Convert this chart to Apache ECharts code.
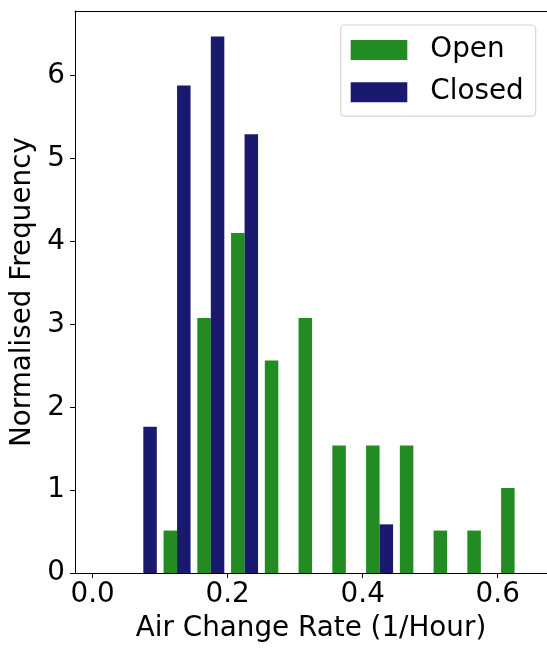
<!DOCTYPE html>
<html>
<head>
<meta charset="utf-8">
<script src="https://cdn.jsdelivr.net/npm/echarts@6/dist/echarts.min.js"></script>
<style>
html,body{margin:0;padding:0;background:#fff;}
#chart{width:547px;height:648px;}
</style>
</head>
<body>
<div id="chart"></div>
<script>
// Histogram bin centres (1/Hour)
const binCenters = [0.075, 0.125, 0.175, 0.225, 0.275, 0.325, 0.375, 0.425, 0.475, 0.525, 0.575, 0.625];
// Normalised frequency per bin
const openValues   = [0, 0.513, 3.077, 4.103, 2.564, 3.077, 1.538, 1.538, 1.538, 0.513, 0.513, 1.026];
const closedValues = [1.765, 5.882, 6.471, 5.294, 0, 0, 0, 0.588, 0, 0, 0, 0];
const xTicks = [0.0, 0.2, 0.4, 0.6];
const yTicks = [0, 1, 2, 3, 4, 5, 6];
const seriesNames = ['Open', 'Closed'];

const binWidth = 0.05;
const barW = binWidth * 0.4;
const FONT = 'DejaVu Sans';
const FS = 27.8;

function makeRender(side) {
  return function (params, api) {
    const c = api.value(0), v = api.value(1);
    if (!v) return null;
    const x0 = side === 0 ? c - barW : c;
    const p0 = api.coord([x0, v]);
    const p1 = api.coord([x0 + barW, 0]);
    return {
      type: 'rect',
      shape: { x: p0[0], y: p0[1], width: p1[0] - p0[0], height: p1[1] - p0[1] },
      style: { fill: api.visual('color') }
    };
  };
}

const chart = echarts.init(document.getElementById('chart'), null, { renderer: 'canvas' });
const axisLineStyle = { color: '#000', width: 1 };
chart.setOption({
  animation: false,
  backgroundColor: '#fff',
  textStyle: { fontFamily: FONT },
  grid: { left: 75, right: 0, top: 11, bottom: 72.3, containLabel: false },
  legend: {
    data: seriesNames.map(n => ({ name: n, icon: 'rect' })),
    orient: 'vertical',
    left: 340.7, top: 25,
    padding: [11, 12, 10, 10],
    itemWidth: 56.6, itemHeight: 20, itemGap: 14.2,
    backgroundColor: '#fff',
    borderColor: '#d6d6d6', borderWidth: 1.2, borderRadius: 4,
    textStyle: { fontFamily: FONT, fontSize: FS, color: '#000', lineHeight: 20, padding: [0, 0, 0, 18] }
  },
  xAxis: [{
    type: 'value', min: -0.0262, max: 0.673,
    name: 'Air Change Rate (1/Hour)', nameLocation: 'middle', nameGap: 42,
    nameTextStyle: { fontFamily: FONT, fontSize: FS, color: '#000', lineHeight: FS },
    splitLine: { show: false },
    axisLine: { show: true, onZero: false, lineStyle: axisLineStyle },
    axisTick: { show: true, length: 5, lineStyle: axisLineStyle, customValues: xTicks },
    axisLabel: { fontFamily: FONT, fontSize: FS, color: '#000', margin: 8, lineHeight: FS,
      customValues: xTicks, formatter: v => v.toFixed(1) }
  }, {
    type: 'value', position: 'top', min: -0.0262, max: 0.673,
    splitLine: { show: false },
    axisLine: { show: true, onZero: false, lineStyle: axisLineStyle },
    axisTick: { show: false }, axisLabel: { show: false }
  }],
  yAxis: {
    type: 'value', min: 0, max: 6.78,
    name: 'Normalised Frequency', nameLocation: 'middle', nameGap: 38, nameRotate: 90,
    nameTextStyle: { fontFamily: FONT, fontSize: FS, color: '#000', lineHeight: FS },
    splitLine: { show: false },
    axisLine: { show: true, onZero: false, lineStyle: axisLineStyle },
    axisTick: { show: true, length: 5, lineStyle: axisLineStyle, customValues: yTicks },
    axisLabel: { fontFamily: FONT, fontSize: FS, color: '#000', margin: 10,
      customValues: yTicks, formatter: v => String(Math.round(v)) }
  },
  series: [
    {
      name: seriesNames[0], type: 'custom', xAxisIndex: 0,
      itemStyle: { color: '#228B22' },
      renderItem: makeRender(0),
      encode: { x: 0, y: 1 },
      data: binCenters.map((c, i) => [c, openValues[i]])
    },
    {
      name: seriesNames[1], type: 'custom', xAxisIndex: 0,
      itemStyle: { color: '#191970' },
      renderItem: makeRender(1),
      encode: { x: 0, y: 1 },
      data: binCenters.map((c, i) => [c, closedValues[i]])
    }
  ]
});
</script>
</body>
</html>
